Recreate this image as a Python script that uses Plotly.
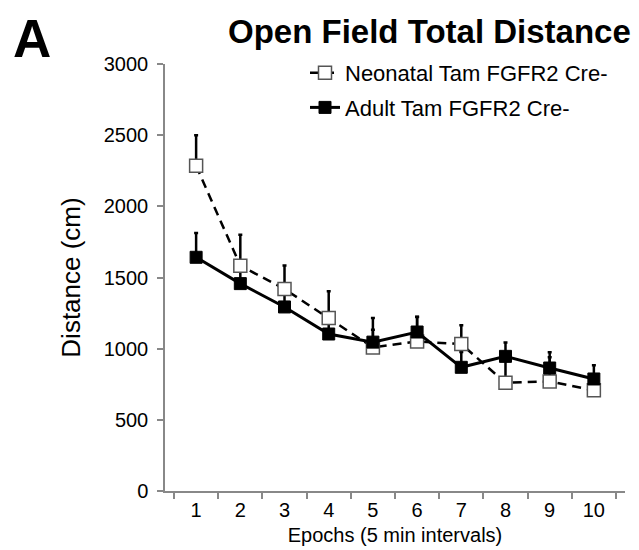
import plotly.graph_objects as go

epochs = ["1", "2", "3", "4", "5", "6", "7", "8", "9", "10"]
neonatal = [2285, 1583, 1419, 1215, 1009, 1051, 1032, 760, 770, 707]
neonatal_err = [215, 218, 166, 188, 124, 172, 132, 190, 170, 100]
adult = [1642, 1457, 1293, 1103, 1046, 1117, 869, 946, 864, 787]
adult_err = [171, 110, 100, 90, 170, 108, 107, 98, 110, 96]

FONT = "Liberation Sans, Arial, sans-serif"
W, H = 639, 550
ML, MR, MT, MB = 157, 22, 56, 67
PW, PH = W - ML - MR, H - MT - MB


def px(xp, yp):
    """pixel position -> paper coordinates"""
    return (xp - ML) / PW, 1 - (yp - MT) / PH


fig = go.Figure()

# adult error bars (drawn underneath)
fig.add_trace(go.Scatter(
    x=epochs, y=adult, mode="markers",
    marker=dict(size=1, color="rgba(0,0,0,0)"),
    error_y=dict(type="data", array=adult_err, arrayminus=[0]*len(adult_err),
                 symmetric=False, color="black", thickness=2.5, width=2),
    showlegend=False, hoverinfo="skip"))

fig.add_trace(go.Scatter(
    x=epochs, y=neonatal, mode="lines+markers",
    name="Neonatal Tam FGFR2 Cre-", legendgroup="n",
    line=dict(color="black", width=2.5, dash="9px,6px"),
    marker=dict(symbol="square", size=13, color="white",
                line=dict(color="#555555", width=1.5)),
    error_y=dict(type="data", array=neonatal_err, arrayminus=[0]*len(neonatal_err),
                 symmetric=False, color="black", thickness=2.5, width=2)))

fig.add_trace(go.Scatter(
    x=epochs, y=adult, mode="lines+markers",
    name="Adult Tam FGFR2 Cre-", legendgroup="a",
    line=dict(color="black", width=3),
    marker=dict(symbol="square", size=12, color="black",
                line=dict(color="black", width=1))))

lx, ly = px(297, 44)
tx, ty = px(421, 24)
ax_, ay_ = px(24, 31)

fig.update_layout(
    width=W, height=H,
    margin=dict(l=ML, r=MR, t=MT, b=MB, autoexpand=False),
    paper_bgcolor="white", plot_bgcolor="white",
    font=dict(family=FONT, color="black"),
    showlegend=True,
    legend=dict(x=lx, y=ly, xanchor="left", yanchor="top",
                bgcolor="rgba(0,0,0,0)",
                font=dict(size=22, family=FONT), traceorder="grouped",
                tracegroupgap=3, itemwidth=30),
    annotations=[
        dict(text="<b>Open Field Total Distance</b>", xref="paper", yref="paper",
             x=tx, y=ty, xanchor="center", yanchor="middle",
             showarrow=False, font=dict(size=33, family=FONT)),
        dict(text="<b>A</b>", xref="paper", yref="paper",
             x=ax_, y=ay_, xanchor="center", yanchor="middle",
             showarrow=False, font=dict(size=53, family=FONT)),
    ],
)
fig.update_xaxes(
    type="category", tickson="boundaries", ticks="outside", ticklen=6,
    tickcolor="#888888", tickwidth=1.5, showline=True, linecolor="#888888",
    linewidth=1.5, showgrid=False, zeroline=False,
    tickfont=dict(size=20, family=FONT),
    title=dict(text="Epochs (5 min intervals)", font=dict(size=20, family=FONT), standoff=8))
fig.update_yaxes(
    range=[0, 3000], tickvals=[0, 500, 1000, 1500, 2000, 2500, 3000],
    ticks="outside", ticklen=6, tickcolor="#888888", tickwidth=1.5,
    showline=True, linecolor="#888888", linewidth=1.5, showgrid=False, zeroline=False,
    tickfont=dict(size=20, family=FONT), ticklabelstandoff=5,
    title=dict(text="Distance (cm)", font=dict(size=26, family=FONT), standoff=16))

fig.write_html("out.html")
